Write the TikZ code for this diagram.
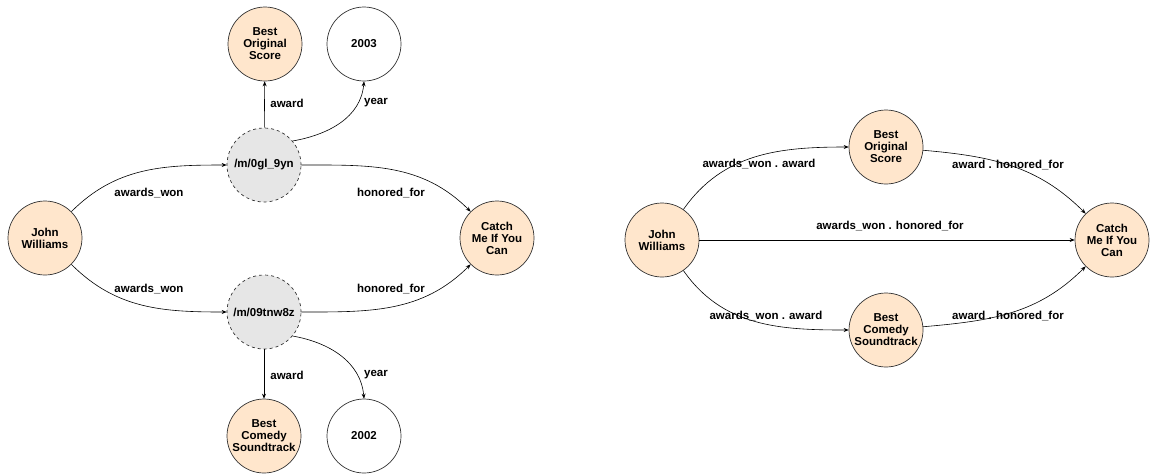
\documentclass[tikz,border=0pt]{standalone}
\usepackage{fontspec}
\setmainfont{Liberation Sans}
\usetikzlibrary{arrows.meta}
\definecolor{peach}{HTML}{FFE6CC}
\definecolor{lgray}{HTML}{E6E6E6}
\definecolor{edgec}{HTML}{333333}
\begin{document}
\begin{tikzpicture}[x=1pt,y=-1pt,
  base/.style={circle,draw=edgec,line width=0.7pt,minimum size=74pt,inner sep=0pt,align=center,
    font=\fontsize{11.5}{12}\selectfont\bfseries},
  entity/.style={base,fill=peach},
  plain/.style={base,fill=white},
  cvt/.style={base,fill=lgray,dashed},
  lbl/.style={font=\fontsize{11.5}{12}\selectfont\bfseries,inner sep=0pt},
  edge/.style={draw=black,line width=0.6pt,-{Stealth[length=5pt,width=4pt]}}
]
\useasboundingbox (0,0) rectangle (1150,475);
% ---- left graph ----
\node[entity] (bosL) at (265,44) {Best\\Original\\Score};
\node[plain] (y2003) at (364,44) {2003};
\node[cvt] (m1) at (264,165) {/m/0gl\_9yn};
\node[entity] (jwL) at (45,238) {John\\Williams};
\node[entity] (cmL) at (497,238) {Catch\\Me If You\\Can};
\node[cvt] (m2) at (264,312) {/m/09tnw8z};
\node[entity] (bcsL) at (264,436) {Best\\Comedy\\Soundtrack};
\node[plain] (y2002) at (364,436) {2002};

\draw[edge] (jwL) to[out=45,in=180] (m1);
\draw[edge] (m1) to[out=0,in=135] (cmL);
\draw[edge] (m1) -- (bosL);
\draw[edge] (m1.40) to[out=10,in=-95] (y2003.south);
\draw[edge] (jwL) to[out=-45,in=180] (m2);
\draw[edge] (m2) to[out=0,in=-135] (cmL);
\draw[edge] (m2) -- (bcsL);
\draw[edge] (m2.-40) to[out=-10,in=95] (y2002.north);

\node[lbl] (l1) at (287,103) {award};
\node[lbl] (l2) at (376,103) {year};
\node[lbl] (l3) at (149,193) {awards\_won};
\node[lbl] (l4) at (391,193) {honored\_for};
\node[lbl] (l5) at (149,289) {awards\_won};
\node[lbl] (l6) at (391,289) {honored\_for};
\node[lbl] (l7) at (287,375) {award};
\node[lbl] (l8) at (376,375) {year};

% ---- right graph ----
\node[entity] (jwR) at (662,240) {John\\Williams};
\node[entity] (bosR) at (886,147) {Best\\Original\\Score};
\node[entity] (bcsR) at (886,330) {Best\\Comedy\\Soundtrack};
\node[entity] (cmR) at (1112,240) {Catch\\Me If You\\Can};

\draw[edge] (jwR) to[out=55,in=180] (bosR);
\draw[edge] (bosR) to[out=-5,in=135] (cmR);
\draw[edge] (jwR) -- (cmR);
\draw[edge] (jwR) to[out=-55,in=180] (bcsR);
\draw[edge] (bcsR) to[out=5,in=-135] (cmR);

\node[lbl] (r1) at (759,164) {awards\_won . award};
\node[lbl] (r2) at (1008,165) {award . honored\_for};
\node[lbl] (r3) at (890,226) {awards\_won . honored\_for};
\node[lbl] (r4) at (766,316) {awards\_won . award};
\node[lbl] (r5) at (1008,316) {award . honored\_for};
\end{tikzpicture}
\end{document}
